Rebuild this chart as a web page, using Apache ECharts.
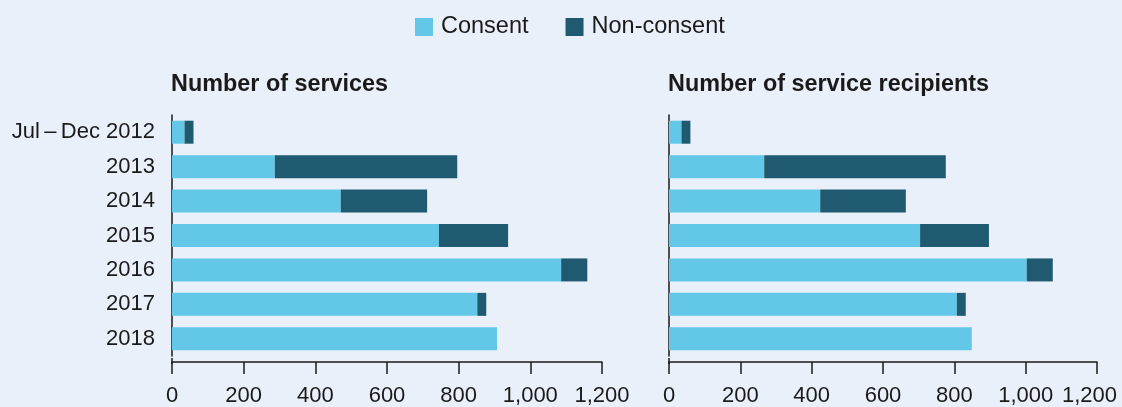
<!DOCTYPE html>
<html>
<head>
<meta charset="utf-8">
<script src="https://cdn.jsdelivr.net/npm/echarts@6/dist/echarts.min.js"></script>
<style>
html, body { margin: 0; padding: 0; background: #eaf0f9; }
#chart { width: 1122px; height: 407px; }
</style>
</head>
<body>
<div id="chart"></div>
<script>
var categories = ['Jul\u2009\u2013\u2009Dec 2012', '2013', '2014', '2015', '2016', '2017', '2018'];

// Number of services
var servicesConsent = [35, 287, 471, 745, 1086, 852, 907];
var servicesNonConsent = [25, 509, 241, 193, 73, 25, 0];

// Number of service recipients
var recipientsConsent = [35, 267, 424, 704, 1003, 807, 849];
var recipientsNonConsent = [25, 509, 240, 193, 73, 25, 0];

var xTicks = [0, 200, 400, 600, 800, 1000, 1200];

var cLight = '#63c7e8', cDark = '#1f5a70',
	ink = '#1a1a1a', font = 'Liberation Sans, Arial, sans-serif';

var gridTop = 115, gridH = 243, axisOffset = 6;
var grids = [
	{ left: 172, width: 430 },
	{ left: 669, width: 428 }
];

function fmt(v) {
	return String(v).replace(/\B(?=(\d{3})+(?!\d))/g, ',');
}

function xAxisFor(idx, lastPad) {
	return {
		type: 'value', gridIndex: idx,
		min: xTicks[0], max: xTicks[xTicks.length - 1], interval: 200,
		offset: axisOffset,
		splitLine: { show: false },
		axisLine: { show: true, lineStyle: { color: ink, width: 1.5 } },
		axisTick: { show: true, length: 12, lineStyle: { color: ink, width: 1.5 } },
		axisLabel: {
			color: ink, fontSize: 22, fontFamily: font, margin: 23,
			formatter: function(v) {
				if (lastPad && v == 1200) return '{r|' + fmt(v) + '}';
				return fmt(v);
			},
			rich: { r: { fontSize: 22, fontFamily: font, color: ink, padding: [0, 15, 0, 0] } }
		}
	};
}

function yAxisFor(idx, showLabels) {
	return {
		type: 'category', gridIndex: idx, inverse: true,
		data: categories,
		axisLine: { show: true, lineStyle: { color: ink, width: 1.5 } },
		axisTick: { show: false },
		axisLabel: { show: showLabels, color: ink, fontSize: 22, fontFamily: font, margin: 17 }
	};
}

function barSeries(name, idx, stack, data, color) {
	return {
		name: name, type: 'bar', stack: stack,
		xAxisIndex: idx, yAxisIndex: idx,
		barWidth: 23,
		itemStyle: { color: color },
		data: data
	};
}

var myChart = echarts.init(document.getElementById('chart'), null, { renderer: 'canvas' });

var option = {
	backgroundColor: '#eaf0f9',
	animation: false,
	textStyle: { fontFamily: font },
	legend: {
		top: 10, left: 410,
		itemWidth: 18, itemHeight: 18, itemGap: 37,
		icon: 'rect',
		textStyle: { fontSize: 23.5, color: ink, fontFamily: font, padding: [0, 0, 0, 3] },
		data: ['Consent', 'Non-consent']
	},
	title: [
		{ text: 'Number of services', left: 166, top: 68,
			textStyle: { fontSize: 23.4, fontWeight: 'bold', color: ink, fontFamily: font } },
		{ text: 'Number of service recipients', left: 663, top: 68,
			textStyle: { fontSize: 23.4, fontWeight: 'bold', color: ink, fontFamily: font } }
	],
	grid: grids.map(function(g) {
		return { left: g.left, width: g.width, top: gridTop, height: gridH };
	}),
	xAxis: [xAxisFor(0, false), xAxisFor(1, true)],
	yAxis: [yAxisFor(0, true), yAxisFor(1, false)],
	// stretch the y axis line down to the offset x axis
	graphic: grids.map(function(g) {
		return {
			type: 'line', silent: true,
			shape: { x1: g.left, y1: gridTop + gridH, x2: g.left, y2: gridTop + gridH + axisOffset },
			style: { stroke: ink, lineWidth: 1.5 }
		};
	}),
	series: [
		barSeries('Consent', 0, 'svc', servicesConsent, cLight),
		barSeries('Non-consent', 0, 'svc', servicesNonConsent, cDark),
		barSeries('Consent', 1, 'rec', recipientsConsent, cLight),
		barSeries('Non-consent', 1, 'rec', recipientsNonConsent, cDark)
	]
};

myChart.setOption(option);
</script>
</body>
</html>
